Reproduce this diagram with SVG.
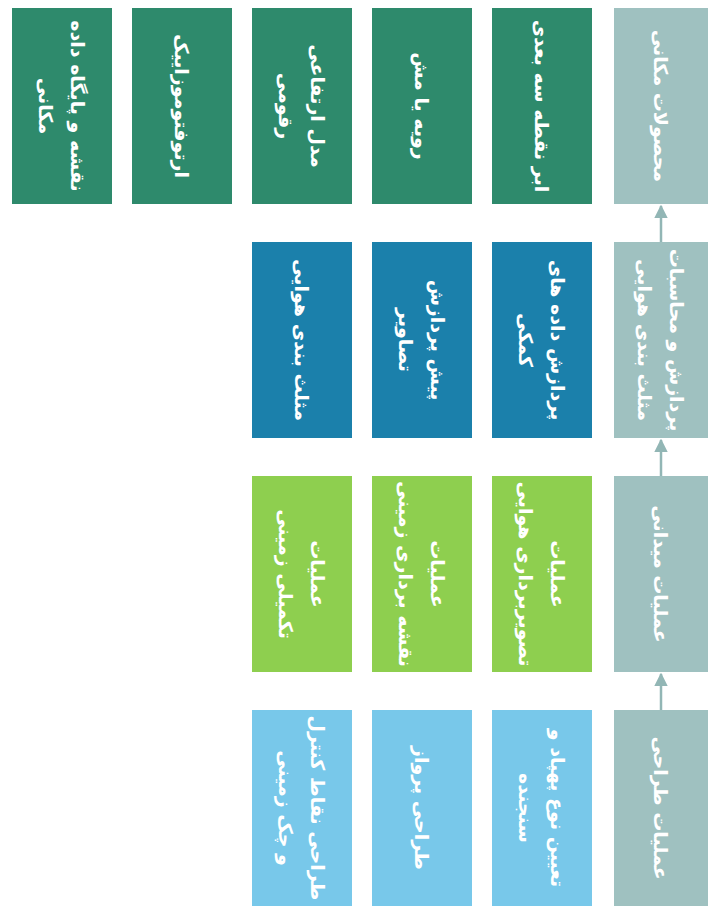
<svg xmlns="http://www.w3.org/2000/svg" width="709" height="907" viewBox="0 0 709 907">
<style>
text{font-family:"DejaVu Sans","Noto Sans",sans-serif;font-weight:bold;fill:#fff;text-anchor:middle;font-size:19px}
.h{fill:#9fc1c0}
.p{fill:#2e8a6c}
.c{fill:#1b80ab}
.f{fill:#8ecf4f}
.d{fill:#78c8ea}
.ln{stroke:#92b6b5;stroke-width:2.5;fill:none}
</style>
<defs>
<marker id="ah" viewBox="0 0 10 10" refX="9" refY="5" markerWidth="5.5" markerHeight="5.5" orient="auto" markerUnits="strokeWidth">
<path d="M0,0 L10,5 L0,10 z" fill="#92b6b5"/>
</marker>
</defs>
<rect width="709" height="907" fill="#fff"/>
<g transform="translate(709,0) rotate(90)">
<g id="connectors">
<line class="ln" x1="710" y1="48" x2="674" y2="48" marker-end="url(#ah)"/>
<line class="ln" x1="476" y1="48" x2="440" y2="48" marker-end="url(#ah)"/>
<line class="ln" x1="242" y1="48" x2="206" y2="48" marker-end="url(#ah)"/>
</g>
<g id="h1"><rect class="h" x="8" y="1" width="196" height="94"/><text x="106" y="55">محصولات مکانی</text></g>
<g id="h2"><rect class="h" x="242" y="1" width="196" height="94"/><text x="340" y="39">پردازش و محاسبات</text><text x="340" y="71">مثلث بندی هوایی</text></g>
<g id="h3"><rect class="h" x="476" y="1" width="196" height="94"/><text x="574" y="55">عملیات میدانی</text></g>
<g id="h4"><rect class="h" x="710" y="1" width="196" height="94"/><text x="808" y="55">عملیات طراحی</text></g>

<g id="p1"><rect class="p" x="8" y="117" width="196" height="100"/><text x="106" y="174">ابر نقطه سه بعدی</text></g>
<g id="p2"><rect class="p" x="8" y="237" width="196" height="100"/><text x="106" y="294">رویه یا مش</text></g>
<g id="p3"><rect class="p" x="8" y="357" width="196" height="100"/><text x="106" y="398">مدل ارتفاعی</text><text x="106" y="430">رقومی</text></g>
<g id="p4"><rect class="p" x="8" y="477" width="196" height="100"/><text x="106" y="534">ارتوفتوموزاییک</text></g>
<g id="p5"><rect class="p" x="8" y="597" width="196" height="100"/><text x="106" y="638">نقشه و پایگاه داده</text><text x="106" y="670">مکانی</text></g>

<g id="c1"><rect class="c" x="242" y="117" width="196" height="100"/><text x="340" y="158">پردازش داده های</text><text x="340" y="190">کمکی</text></g>
<g id="c2"><rect class="c" x="242" y="237" width="196" height="100"/><text x="340" y="278">پیش پردازش</text><text x="340" y="310">تصاویر</text></g>
<g id="c3"><rect class="c" x="242" y="357" width="196" height="100"/><text x="340" y="414">مثلث بندی هوایی</text></g>

<g id="f1"><rect class="f" x="476" y="117" width="196" height="100"/><text x="574" y="158">عملیات</text><text x="574" y="190">تصویربرداری هوایی</text></g>
<g id="f2"><rect class="f" x="476" y="237" width="196" height="100"/><text x="574" y="278">عملیات</text><text x="574" y="310">نقشه برداری زمینی</text></g>
<g id="f3"><rect class="f" x="476" y="357" width="196" height="100"/><text x="574" y="398">عملیات</text><text x="574" y="430">تکمیلی زمینی</text></g>

<g id="d1"><rect class="d" x="710" y="117" width="196" height="100"/><text x="808" y="158">تعیین نوع پهپاد و</text><text x="808" y="190">سنجنده</text></g>
<g id="d2"><rect class="d" x="710" y="237" width="196" height="100"/><text x="808" y="294">طراحی پرواز</text></g>
<g id="d3"><rect class="d" x="710" y="357" width="196" height="100"/><text x="808" y="398">طراحی نقاط کنترل</text><text x="808" y="430">و چک زمینی</text></g>
</g>
</svg>
